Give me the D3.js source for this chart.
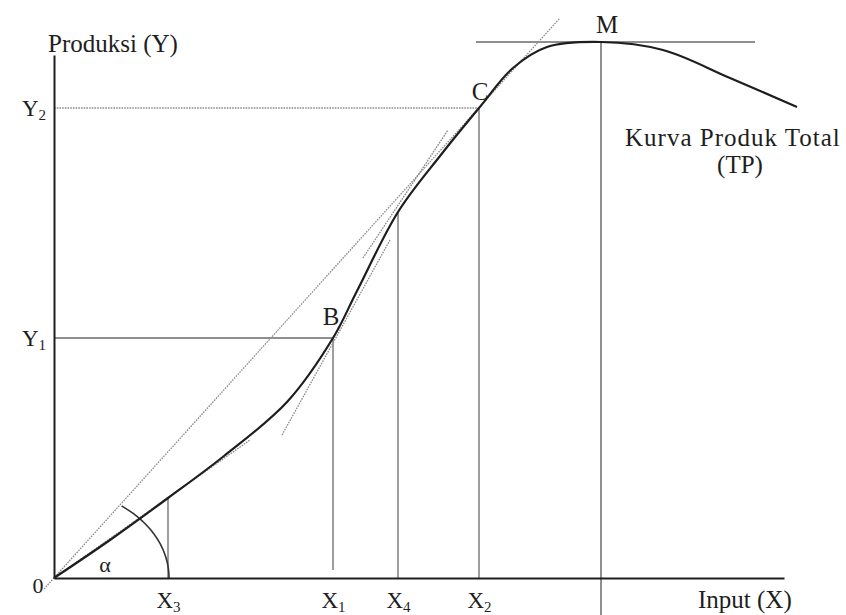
<!DOCTYPE html>
<html><head><meta charset="utf-8">
<script src="https://cdn.jsdelivr.net/npm/d3@7"></script>
<style>
body{margin:0;background:#fff}
svg{display:block}
text{font-family:"Liberation Serif","Times New Roman",serif;fill:#1e1e1e}
</style>
</head><body>
<svg id="c" width="846" height="615"></svg>
<script>
// ---- data (arbitrary input/output units) ----
const curveX = [0,56,114,170,233,279,303,344,386,425,459,493,547,609,676,743];
const curveY = [0,38,80,122,176,240,287,366,422,470,510,531,536,528,500,471];

const xTickValues = [114,279,344,425];
const xTickNames  = ["X","X","X","X"];
const xTickSubs   = ["3","1","4","2"];
const yTickValues = [240,470];
const yTickNames  = ["Y","Y"];
const yTickSubs   = ["1","2"];

const pointB = [279,240];
const pointC = [425,470];
const pointX4 = [344,366];
const pointX3 = [114,80];
const pointM = [547,536];

// straight reference lines: [x1,y1,x2,y2]
const rayThroughC = [-10,-11,506,560];
const rayLow      = [0,0,196,138];
const tangentB    = [228,143,336,338];
const tangentX4   = [309,320,394,448];
const tangentM    = [422,536,701,536];
const mBottom     = -37;

const arcRadii = [115,89];
const arcEndDeg = 54;

const labelTexts = ["Produksi (Y)","Input (X)","Kurva Produk Total","(TP)","M","C","B","α","0"];
const labelPos   = [[-6,526],[644,-30],[571,432],[686,405],[553,545],[426,478],[277,253],[51,6],[-16,-15]];
const labelAnchor= ["start","start","start","middle","middle","middle","middle","middle","middle"];

// ---- scales ----
const svg = d3.select("#c");
const x = d3.scaleLinear().domain([0,730]).range([54,784]);
const y = d3.scaleLinear().domain([0,523]).range([578,55]);

const gray = "#6a6a6a", dotted = "#8a8a8a";

function seg(a){
  return svg.append("line")
    .attr("x1",x(a[0])).attr("y1",y(a[1])).attr("x2",x(a[2])).attr("y2",y(a[3]));
}
function dotLine(a){
  return seg(a).attr("stroke",dotted).attr("stroke-width",1.3).attr("stroke-dasharray","1.6,1.1");
}
function solidGray(a){
  return seg(a).attr("stroke",gray).attr("stroke-width",1.3);
}

// reference lines
solidGray([0,yTickValues[0],pointB[0],pointB[1]]);
dotLine([0,yTickValues[1],pointC[0],pointC[1]]);
solidGray([pointX3[0],pointX3[1],pointX3[0],0]);
solidGray([pointB[0],pointB[1],pointB[0],8]);
solidGray([pointX4[0],pointX4[1],pointX4[0],0]);
solidGray([pointC[0],pointC[1],pointC[0],0]);
solidGray([pointM[0],pointM[1],pointM[0],mBottom]).attr("stroke-width",1.5);
solidGray(tangentM);

dotLine(rayThroughC);
dotLine(rayLow);
dotLine(tangentB);
dotLine(tangentX4);

// angle arc
const arcPts = d3.range(0, arcEndDeg+0.5, 1).map(d => {
  const t = d*Math.PI/180;
  return [arcRadii[0]*Math.cos(t), arcRadii[1]*Math.sin(t)];
});
svg.append("path")
  .attr("d", d3.line().x(d=>x(d[0])).y(d=>y(d[1]))(arcPts))
  .attr("fill","none").attr("stroke","#333").attr("stroke-width",1.6);

// axes
const xAxis = d3.axisBottom(x).tickValues(xTickValues).tickSize(0).tickSizeOuter(0).tickFormat(()=>"");
const gx = svg.append("g").attr("transform",`translate(0,${y(0)})`).call(xAxis);
gx.select(".domain").attr("stroke","#1e1e1e").attr("stroke-width",2);
gx.selectAll(".tick text").remove();
gx.selectAll(".tick").each(function(d,i){
  const t = d3.select(this).append("text")
    .attr("y",30).attr("text-anchor","middle").attr("font-size",23)
    .attr("fill","#1e1e1e");
  t.append("tspan").text(xTickNames[i]);
  t.append("tspan").attr("font-size",15).attr("dy",4).text(xTickSubs[i]);
});
gx.attr("font-family",null).attr("font-size",null);

const yAxis = d3.axisLeft(y).tickValues(yTickValues).tickSize(0).tickSizeOuter(0).tickFormat(()=>"");
const gy = svg.append("g").attr("transform",`translate(${x(0)},0)`).call(yAxis);
gy.select(".domain").attr("stroke","#1e1e1e").attr("stroke-width",2);
gy.selectAll(".tick text").remove();
gy.selectAll(".tick").each(function(d,i){
  const t = d3.select(this).append("text")
    .attr("x",-8).attr("y",7).attr("text-anchor","end").attr("font-size",23)
    .attr("fill","#1e1e1e");
  t.append("tspan").text(yTickNames[i]);
  t.append("tspan").attr("font-size",15).attr("dy",4).text(yTickSubs[i]);
});
gy.attr("font-family",null).attr("font-size",null);

// total product curve
const pts = curveX.map((v,i)=>[v,curveY[i]]);
svg.append("path")
  .attr("d", d3.line().x(d=>x(d[0])).y(d=>y(d[1])).curve(d3.curveCatmullRom.alpha(0.5))(pts))
  .attr("fill","none").attr("stroke","#1e1e1e").attr("stroke-width",2.2);

// labels
labelTexts.forEach((s,i)=>{
  const t = svg.append("text")
    .attr("x",x(labelPos[i][0])).attr("y",y(labelPos[i][1]))
    .attr("text-anchor",labelAnchor[i])
    .attr("font-size", s==="α"||s==="0" ? 22 : 25)
    .text(s);
  if (s.startsWith("Kurva")) t.attr("letter-spacing",1);
});
</script>
</body></html>
